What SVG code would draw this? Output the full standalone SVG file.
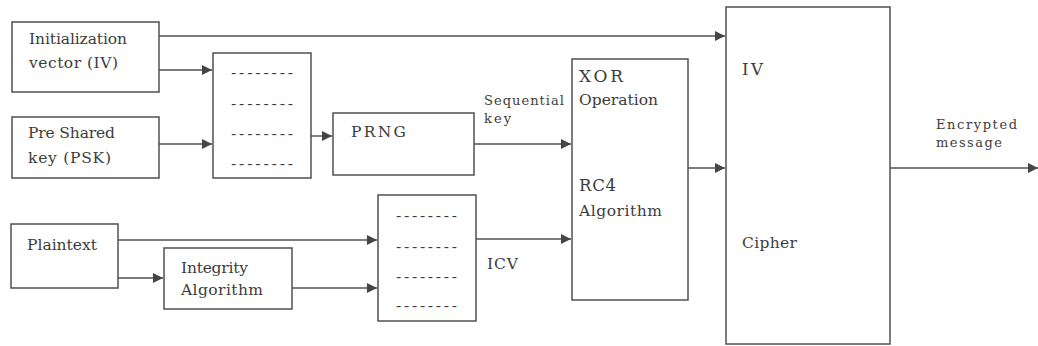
<svg xmlns="http://www.w3.org/2000/svg" width="1038" height="346" viewBox="0 0 1038 346">
  <style>
    .box { fill: #ffffff; stroke: #505050; stroke-width: 1.5; }
    .wire { fill: none; stroke: #505050; stroke-width: 1.4; }
  </style>
  <defs>
    <marker id="arrow" viewBox="0 0 10 10" refX="10" refY="5" markerWidth="10" markerHeight="10" markerUnits="userSpaceOnUse" orient="auto">
      <path d="M0,0 L10,5 L0,10 Z" fill="#454545"/>
    </marker>
  </defs>
  <rect width="1038" height="346" fill="#ffffff"/>

  <g font-family="DejaVu Serif, serif" fill="#3c3c3c" font-size="15.5">
  <!-- connectors -->
  <g id="connectors">
    <line class="wire" x1="159" y1="36" x2="725" y2="36" marker-end="url(#arrow)"/>
    <line class="wire" x1="159" y1="70" x2="212" y2="70" marker-end="url(#arrow)"/>
    <line class="wire" x1="159" y1="144" x2="212" y2="144" marker-end="url(#arrow)"/>
    <line class="wire" x1="311" y1="136" x2="332" y2="136" marker-end="url(#arrow)"/>
    <line class="wire" x1="474" y1="144" x2="571" y2="144" marker-end="url(#arrow)"/>
    <line class="wire" x1="118" y1="240" x2="377" y2="240" marker-end="url(#arrow)"/>
    <line class="wire" x1="118" y1="278" x2="163" y2="278" marker-end="url(#arrow)"/>
    <line class="wire" x1="292" y1="288" x2="377" y2="288" marker-end="url(#arrow)"/>
    <line class="wire" x1="476" y1="239" x2="571" y2="239" marker-end="url(#arrow)"/>
    <line class="wire" x1="688" y1="168" x2="725" y2="168" marker-end="url(#arrow)"/>
    <line class="wire" x1="890" y1="168" x2="1038" y2="168" marker-end="url(#arrow)"/>
    <text font-size="13" x="484" y="105" textLength="80">Sequential</text>
    <text font-size="13" x="484" y="123" textLength="27">key</text>
    <text x="487" y="269" textLength="31">ICV</text>
    <text font-size="13" x="936" y="129" textLength="81">Encrypted</text>
    <text font-size="13" x="936" y="147" textLength="66">message</text>
  </g>

  <g id="iv">
    <rect class="box" x="12" y="22" width="147" height="70"/>
    <text x="29" y="44" textLength="98">Initialization</text>
    <text x="29" y="68" textLength="89">vector (IV)</text>
  </g>

  <g id="psk">
    <rect class="box" x="12" y="117" width="147" height="61"/>
    <text x="28" y="138" textLength="87">Pre Shared</text>
    <text x="28" y="163" textLength="83">key (PSK)</text>
  </g>

  <g id="key-buffer">
    <rect class="box" x="213" y="53" width="98" height="125"/>
    <text x="231" y="78" textLength="62">--------</text>
    <text x="231" y="109" textLength="62">--------</text>
    <text x="231" y="139" textLength="62">--------</text>
    <text x="231" y="169" textLength="62">--------</text>
  </g>

  <g id="prng">
    <rect class="box" x="333" y="113" width="141" height="62"/>
    <text x="351" y="137" textLength="55">PRNG</text>
  </g>

  <g id="plaintext">
    <rect class="box" x="11" y="224" width="107" height="64"/>
    <text x="27" y="250" textLength="70">Plaintext</text>
  </g>

  <g id="integrity">
    <rect class="box" x="164" y="248" width="128" height="61"/>
    <text x="181" y="273" textLength="67">Integrity</text>
    <text x="181" y="295" textLength="82">Algorithm</text>
  </g>

  <g id="icv-buffer">
    <rect class="box" x="378" y="195" width="98" height="126"/>
    <text x="396" y="221" textLength="61">--------</text>
    <text x="396" y="252" textLength="61">--------</text>
    <text x="396" y="282" textLength="61">--------</text>
    <text x="396" y="311" textLength="61">--------</text>
  </g>

  <g id="xor-rc4">
    <rect class="box" x="572" y="59" width="116" height="241"/>
    <text font-size="17" x="579" y="82" textLength="44">XOR</text>
    <text x="579" y="105" textLength="79">Operation</text>
    <text font-size="16.5" x="579" y="191" textLength="37">RC4</text>
    <text x="579" y="216" textLength="83">Algorithm</text>
  </g>

  <g id="cipher">
    <rect class="box" x="726" y="7" width="164" height="337"/>
    <text font-size="16.5" x="742" y="75" textLength="21">IV</text>
    <text x="742" y="248" textLength="55">Cipher</text>
  </g>
  </g>
</svg>
